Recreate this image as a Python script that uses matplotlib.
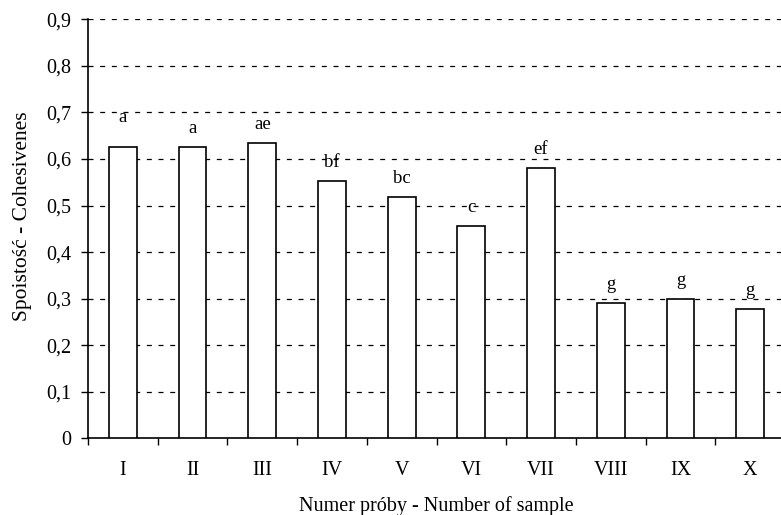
import matplotlib
matplotlib.use("Agg")
import matplotlib.pyplot as plt
from matplotlib.ticker import FuncFormatter, FixedLocator
import numpy as np

categories = ["I", "II", "III", "IV", "V", "VI", "VII", "VIII", "IX", "X"]
values = [0.626, 0.626, 0.635, 0.553, 0.518, 0.457, 0.581, 0.291, 0.300, 0.278]
letters = ["a", "a", "ae", "bf", "bc", "c", "ef", "g", "g", "g"]
yticks = [0, 0.1, 0.2, 0.3, 0.4, 0.5, 0.6, 0.7, 0.8, 0.9]

plt.rcParams['font.family'] = ['Liberation Serif', 'DejaVu Serif']
plt.rcParams['lines.scale_dashes'] = False

fig = plt.figure(figsize=(7.81, 5.15), dpi=100)
ax = fig.add_axes([88 / 781, (515 - 438.3) / 515, 697 / 781, 419 / 515])

x = np.arange(len(categories)) + 0.5
ax.bar(x, values, width=0.4, color="white", edgecolor="black", linewidth=1.2, zorder=3)

for yv in yticks[1:]:
    ax.axhline(yv, color="black", linewidth=0.9, dashes=(3.6, 4.8), zorder=1)

for i, (xi, v, lab) in enumerate(zip(x, values, letters)):
    off = 18 if i == 0 else 10
    ax.annotate(lab, (xi, v), xytext=(0, off), textcoords="offset points",
                ha="center", va="baseline", fontsize=13.5)

ax.set_xlim(0, len(categories))
ax.set_ylim(0, 0.9)
ax.yaxis.set_major_locator(FixedLocator(yticks))
ax.yaxis.set_major_formatter(FuncFormatter(lambda v, p: "0" if abs(v) < 1e-9 else f"{v:.1f}".replace(".", ",")))
ax.set_xticks(np.arange(len(categories) + 1))
ax.set_xticklabels([])
ax.set_xticks(x, minor=True)
ax.set_xticklabels(categories, minor=True)
ax.tick_params(axis="x", which="minor", length=0, pad=16, labelsize=14.5)
ax.tick_params(axis="x", which="major", length=5, width=1, direction="out")
ax.tick_params(axis="y", length=5, width=1, direction="out", labelsize=14.5, pad=7)

for s in ["top", "right"]:
    ax.spines[s].set_visible(False)
for s in ["left", "bottom"]:
    ax.spines[s].set_linewidth(1.2)

ax.set_xlabel("Numer próby - Number of sample", fontsize=14.5, labelpad=12)
ax.set_ylabel("Spoistość - Cohesivenes", fontsize=15.5)
ax.yaxis.set_label_coords(-0.080, 0.53)

fig.savefig("out.png", dpi=100)
